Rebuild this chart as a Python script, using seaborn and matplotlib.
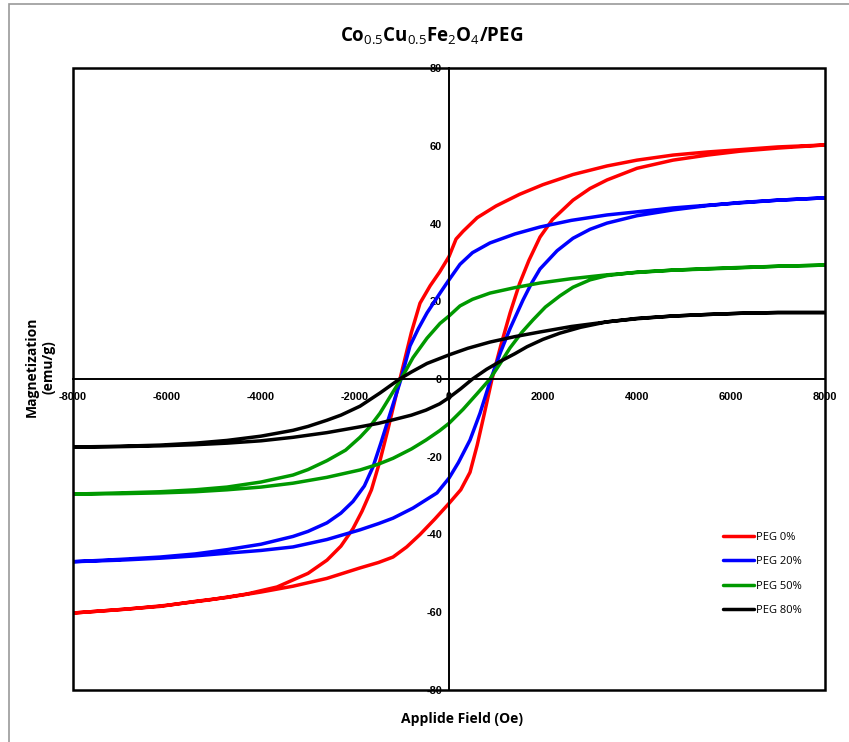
import matplotlib
matplotlib.use("Agg")
import matplotlib.pyplot as plt
import seaborn as sns
import pandas as pd
from matplotlib.patches import Rectangle

sns.set_theme(style="white")
plt.rcParams['font.family'] = ['Open Sans', 'DejaVu Sans']
plt.rcParams['mathtext.fontset'] = 'custom'
plt.rcParams['mathtext.rm'] = 'Open Sans'
plt.rcParams['mathtext.bf'] = 'Open Sans:bold'
plt.rcParams['text.color'] = 'black'
plt.rcParams['xtick.color'] = 'black'
plt.rcParams['ytick.color'] = 'black'
plt.rcParams['xtick.labelcolor'] = 'black'
plt.rcParams['ytick.labelcolor'] = 'black'

samples = ["PEG 0%", "PEG 20%", "PEG 50%", "PEG 80%"]
colors = ["#ff0000", "#0000ff", "#009900", "#000000"]

# PEG 0% : descending branch (upper) then ascending branch (lower)
h_up_0 = [8000, 7000, 6200, 5500, 4766, 4000, 3362, 2638, 2000, 1500, 1000, 600, 300, 150, 0, -200, -400, -617, -800, -1043, -1300, -1468, -1650, -1850, -2043, -2300, -2596, -3000, -3660, -4300, -5085, -6000, -6851, -8000]
m_up_0 = [60.2, 59.7, 59.0, 58.4, 57.6, 56.3, 54.8, 52.6, 50.0, 47.5, 44.5, 41.5, 38.0, 36.0, 31.5, 27.5, 24.0, 19.5, 12.0, 0.0, -13.0, -21.0, -28.5, -34.0, -38.5, -43.0, -46.6, -50.0, -53.5, -55.3, -56.8, -58.2, -59.2, -60.2]
h_dn_0 = [-8000, -7000, -6149, -5400, -4723, -4000, -3319, -2600, -1894, -1500, -1191, -900, -617, -300, 0, 250, 447, 600, 750, 915, 1100, 1300, 1500, 1700, 1936, 2200, 2638, 3000, 3362, 4000, 4766, 5500, 6191, 7000, 8000]
m_dn_0 = [-60.2, -59.3, -58.5, -57.2, -56.2, -54.8, -53.3, -51.3, -48.6, -47.2, -45.8, -43.2, -40.0, -36.0, -32.0, -28.5, -24.0, -17.0, -9.0, 0.0, 8.5, 17.0, 24.5, 30.5, 36.5, 41.0, 46.0, 49.0, 51.2, 54.2, 56.3, 57.6, 58.6, 59.4, 60.2]

# PEG 20%
h_up_20 = [8000, 7000, 6191, 5500, 4766, 4000, 3362, 2600, 1936, 1400, 872, 500, 234, 0, -191, -468, -650, -830, -1021, -1255, -1450, -1617, -1800, -2043, -2300, -2596, -3000, -3319, -4000, -4723, -5400, -6149, -7000, -8000]
m_up_20 = [46.6, 46.0, 45.3, 44.7, 44.0, 43.0, 42.2, 40.8, 39.1, 37.3, 35.0, 32.5, 29.5, 25.5, 22.1, 17.0, 13.0, 8.5, 0.0, -9.0, -16.5, -22.6, -27.5, -31.5, -34.5, -37.0, -39.2, -40.5, -42.5, -43.9, -45.0, -45.8, -46.4, -47.0]
h_dn_20 = [-8000, -7000, -6149, -5400, -4723, -4000, -3319, -2600, -1894, -1500, -1191, -766, -255, 0, 200, 447, 660, 890, 1100, 1300, 1574, 1750, 1936, 2300, 2638, 3000, 3362, 4000, 4766, 5500, 6191, 7000, 8000]
m_dn_20 = [-47.0, -46.6, -46.1, -45.5, -44.8, -44.1, -43.2, -41.3, -38.8, -37.2, -35.8, -33.2, -29.3, -25.5, -21.5, -15.7, -8.8, 0.0, 7.0, 13.0, 20.3, 24.5, 28.3, 33.0, 36.2, 38.5, 40.1, 42.0, 43.5, 44.6, 45.4, 46.0, 46.6]

# PEG 50%
h_up_50 = [8000, 7000, 6191, 5500, 4766, 4000, 3362, 2600, 1936, 1400, 872, 500, 234, 0, -191, -468, -766, -1020, -1200, -1468, -1700, -1894, -2200, -2596, -3000, -3319, -4000, -4723, -5400, -6149, -7000, -8000]
m_up_50 = [29.3, 29.0, 28.6, 28.3, 28.0, 27.4, 26.8, 25.8, 24.7, 23.5, 22.1, 20.5, 18.8, 16.2, 14.3, 10.5, 5.5, 0.0, -3.5, -8.8, -12.5, -15.0, -18.3, -21.0, -23.3, -24.7, -26.5, -27.8, -28.5, -29.0, -29.3, -29.6]
h_dn_50 = [-8000, -7000, -6149, -5400, -4723, -4000, -3319, -2600, -1894, -1500, -1191, -800, -489, -200, 0, 300, 596, 872, 1100, 1298, 1550, 1787, 2050, 2362, 2638, 3000, 3362, 4000, 4766, 5500, 6191, 7000, 8000]
m_dn_50 = [-29.6, -29.5, -29.3, -29.0, -28.5, -27.8, -26.8, -25.3, -23.4, -21.9, -20.4, -18.0, -15.7, -13.3, -11.4, -7.8, -3.8, 0.0, 4.2, 8.0, 12.0, 15.2, 18.5, 21.4, 23.6, 25.5, 26.6, 27.5, 28.0, 28.4, 28.7, 29.0, 29.3]

# PEG 80%
h_up_80 = [8000, 7000, 6191, 5500, 4766, 4000, 3362, 2600, 1936, 1400, 872, 400, 0, -468, -800, -1050, -1468, -1894, -2300, -2596, -3000, -3319, -4000, -4723, -5400, -6149, -7000, -8000]
m_up_80 = [17.1, 17.1, 16.9, 16.6, 16.2, 15.5, 14.7, 13.5, 12.1, 10.9, 9.5, 7.9, 6.2, 4.0, 1.8, 0.0, -3.6, -7.0, -9.3, -10.6, -12.2, -13.2, -14.7, -15.8, -16.5, -17.0, -17.3, -17.5]
h_dn_80 = [-8000, -7000, -6149, -5400, -4723, -4000, -3319, -2600, -1894, -1500, -1191, -800, -489, -200, 0, 250, 500, 800, 1085, 1400, 1660, 2000, 2362, 2800, 3362, 4000, 4766, 5500, 6191, 7000, 8000]
m_dn_80 = [-17.5, -17.4, -17.2, -16.9, -16.5, -15.9, -15.0, -13.8, -12.3, -11.4, -10.5, -9.3, -8.0, -6.4, -4.8, -2.5, 0.0, 2.5, 4.5, 6.5, 8.3, 10.2, 11.8, 13.3, 14.7, 15.6, 16.2, 16.6, 16.9, 17.1, 17.1]

x_ticks = [-8000, -6000, -4000, -2000, 0, 2000, 4000, 6000, 8000]
y_ticks = [-80, -60, -40, -20, 0, 20, 40, 60, 80]

loops = {
    "PEG 0%": (h_up_0 + h_dn_0, m_up_0 + m_dn_0),
    "PEG 20%": (h_up_20 + h_dn_20, m_up_20 + m_dn_20),
    "PEG 50%": (h_up_50 + h_dn_50, m_up_50 + m_dn_50),
    "PEG 80%": (h_up_80 + h_dn_80, m_up_80 + m_dn_80),
}
frames = []
for s in samples:
    h, m = loops[s]
    frames.append(pd.DataFrame({"H": h, "M": m, "sample": s}))
df = pd.concat(frames, ignore_index=True)

fig = plt.figure(figsize=(8.49, 7.42), dpi=100)
ax = fig.add_axes([73/849, 1-690/742, (825-73)/849, (690-68)/742])

sns.lineplot(data=df, x="H", y="M", hue="sample", hue_order=samples,
             palette=dict(zip(samples, colors)), sort=False, estimator=None,
             linewidth=2.5, ax=ax)

# spines through the origin (do this before styling the tick labels)
for side in ["top", "right"]:
    ax.spines[side].set_visible(False)
ax.spines["left"].set_position(("data", 0))
ax.spines["bottom"].set_position(("data", 0))
for side in ["left", "bottom"]:
    ax.spines[side].set_linewidth(1.4)
    ax.spines[side].set_color("black")

tick_fs = 7.9
ax.set_xlim(-8000, 8000)
ax.set_ylim(-80, 80)
ax.set_xticks(x_ticks)
ax.set_yticks(y_ticks)
ax.set_xlabel("")
ax.set_ylabel("")
ax.tick_params(axis="both", direction="out", length=3, width=1.2, color="black", pad=2,
               labelsize=tick_fs, labelcolor="black", labelfontfamily="Liberation Sans")
ax.tick_params(axis="x", pad=6)
ax.set_xticklabels([str(v) for v in x_ticks], fontweight="bold", fontsize=tick_fs,
                   family="Liberation Sans", color="black")
ax.set_yticklabels([str(v) for v in y_ticks], fontweight="bold", fontsize=tick_fs,
                   family="Liberation Sans", color="black")

ax.add_patch(Rectangle((0, 0), 1, 1, transform=ax.transAxes, fill=False,
                       ec="black", lw=1.8, clip_on=False, zorder=5))

# outer chart frame
fig.patches.append(Rectangle((9/849, -0.05), 1.2, 1 - 4/742 + 0.05, transform=fig.transFigure,
                             fill=False, ec="#999999", lw=1.2))

fig.text(432/849, 1-36/742, r"Co$_{0.5}$Cu$_{0.5}$Fe$_{2}$O$_{4}$/PEG",
         ha="center", va="center", fontsize=13.5, fontweight="bold", color="black")
fig.text(462/849, 1-719/742, "Applide Field (Oe)", ha="center", va="center",
         fontsize=10, fontweight="bold", color="black")
fig.text(40/849, 1-367/742, "Magnetization\n(emu/g)", ha="center", va="center",
         rotation=90, fontsize=10, fontweight="bold", linespacing=1.2, color="black")

leg = ax.legend(loc="upper left", bbox_to_anchor=(723/849, 1-532/742),
                bbox_transform=fig.transFigure, frameon=False, fontsize=8,
                handlelength=2.8, handletextpad=0.2, labelspacing=1.2,
                borderpad=0, borderaxespad=0)
for line in leg.get_lines():
    line.set_linewidth(2.5)
for t in leg.get_texts():
    t.set_color("black")

fig.savefig("out.png", dpi=100, facecolor="white")
